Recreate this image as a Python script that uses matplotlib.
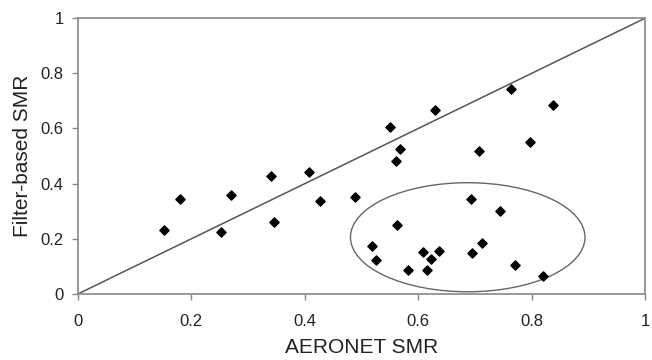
import numpy as np
import matplotlib.pyplot as plt
from matplotlib.patches import Ellipse

plt.rcParams['font.family'] = ['Liberation Sans', 'DejaVu Sans']

# AERONET vs filter-based SMR
aeronet_smr = [0.153, 0.181, 0.252, 0.270, 0.340, 0.345, 0.407, 0.427, 0.489,
               0.550, 0.630, 0.763, 0.837, 0.568, 0.561, 0.707, 0.797,
               0.693, 0.744, 0.563, 0.518, 0.525, 0.608, 0.622, 0.637,
               0.581, 0.615, 0.694, 0.713, 0.770, 0.820]
filter_smr = [0.234, 0.343, 0.224, 0.358, 0.426, 0.260, 0.443, 0.339, 0.350,
              0.606, 0.667, 0.744, 0.685, 0.525, 0.481, 0.517, 0.550,
              0.343, 0.302, 0.250, 0.174, 0.124, 0.153, 0.129, 0.155,
              0.088, 0.087, 0.150, 0.186, 0.106, 0.065]
ticks = [0, 0.2, 0.4, 0.6, 0.8, 1]
tick_labels = ['0', '0.2', '0.4', '0.6', '0.8', '1']

fig = plt.figure(figsize=(6.52, 3.6), dpi=100)
ax = fig.add_axes([0.119, 0.183, 0.871, 0.767])

# 1:1 line
ax.plot([0, 1], [0, 1], color='#555555', lw=1.1, zorder=2)
ax.scatter(aeronet_smr, filter_smr, marker='D', s=22, color='black', zorder=3)

# circled cluster
ax.add_patch(Ellipse((0.687, 0.206), 0.413, 0.395, fill=False,
                     edgecolor='#666666', lw=1.0, zorder=2))

ax.set_xlim(0, 1)
ax.set_ylim(0, 1)
ax.set_xticks(ticks)
ax.set_xticklabels(tick_labels)
ax.set_yticks(ticks)
ax.set_yticklabels(tick_labels)
ax.tick_params(labelsize=12, colors='#222222', length=4, width=1,
               direction='out', color='#888888')
ax.tick_params(axis='x', pad=10)
ax.tick_params(axis='y', pad=6)
for sp in ax.spines.values():
    sp.set_color('#888888')
    sp.set_linewidth(1.2)

ax.set_xlabel('AERONET SMR', fontsize=15, color='#222222', labelpad=7)
ax.set_ylabel('Filter-based SMR', fontsize=15, color='#222222', labelpad=6)

fig.savefig('out.png', dpi=100)
